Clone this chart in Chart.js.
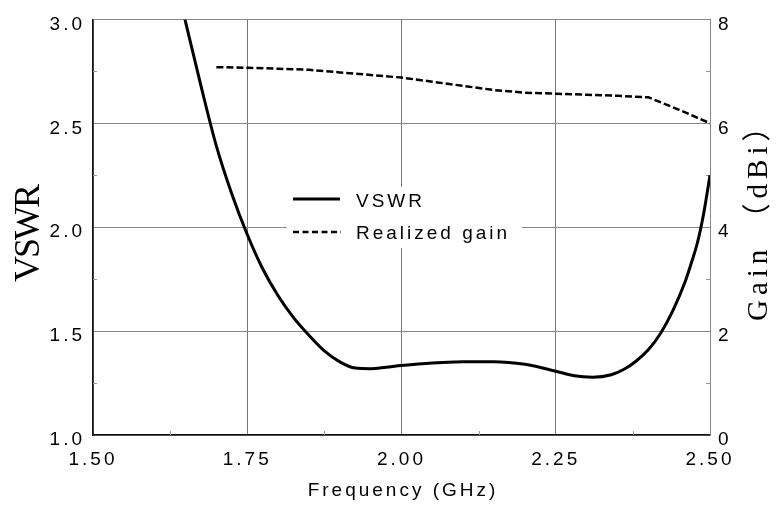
<!DOCTYPE html>
<html>
<head>
<meta charset="utf-8">
<script src="https://cdn.jsdelivr.net/npm/chart.js@4/dist/chart.umd.min.js"></script>
<style>
  html, body { margin: 0; padding: 0; background: #fff; }
  #wrap { width: 777px; height: 508px; }
</style>
</head>
<body>
<div id="wrap"><canvas id="chart" width="777" height="508"></canvas></div>
<script>
// VSWR curve
const freqVswr = [1.649, 1.675, 1.70, 1.725, 1.75, 1.775, 1.80, 1.825, 1.85, 1.875, 1.90, 1.925,
  1.95, 1.975, 2.00, 2.05, 2.10, 2.15, 2.20, 2.25, 2.28, 2.31, 2.34, 2.36, 2.38, 2.40, 2.42,
  2.44, 2.46, 2.47, 2.48, 2.49, 2.50];
const vswr = [3.00, 2.68, 2.39, 2.16, 1.965, 1.80, 1.67, 1.565, 1.48, 1.405, 1.352, 1.322,
  1.319, 1.326, 1.334, 1.346, 1.352, 1.353, 1.34, 1.307, 1.285, 1.278, 1.29, 1.315, 1.355, 1.41, 1.49,
  1.60, 1.74, 1.83, 1.93, 2.07, 2.25];

// realized gain (dBi)
const freqGain = [1.70, 1.75, 1.80, 1.85, 1.90, 1.95, 2.00, 2.05, 2.10, 2.15, 2.20, 2.25, 2.30, 2.35, 2.40, 2.45, 2.50];
const gain = [7.08, 7.07, 7.05, 7.03, 6.98, 6.93, 6.88, 6.80, 6.72, 6.64, 6.59, 6.57, 6.55, 6.53, 6.50, 6.26, 6.00];

// ticks
const xTicks = [1.50, 1.75, 2.00, 2.25, 2.50];
const vswrTicks = [1.0, 1.5, 2.0, 2.5, 3.0];
const gainTicks = [0, 2, 4, 6, 8];
const xMinor = [1.625, 1.875, 2.125, 2.375];
const vswrMinor = [1.25, 1.75, 2.25, 2.75];
const gainMinor = [1, 3, 5, 7];

const sans = '"Liberation Sans", Arial, sans-serif';
const serif = '"Liberation Serif", "Times New Roman", serif';
const GAIN_DASH = [7, 3];

// letter spacing for the canvas text (ticks are widely spaced in the original)
const spacing = {
  id: 'spacing',
  beforeUpdate(chart) { chart.ctx.letterSpacing = '3px'; },
  beforeDraw(chart) { chart.ctx.letterSpacing = '3px'; }
};

// small inner tick marks between the labelled ones
const minorTicks = {
  id: 'minorTicks',
  beforeDatasetsDraw(chart) {
    const { ctx, chartArea: a, scales } = chart;
    ctx.save();
    ctx.strokeStyle = '#999';
    ctx.lineWidth = 1;
    ctx.beginPath();
    xMinor.forEach(v => {
      const x = Math.round(scales.x.getPixelForValue(v)) + 0.5;
      ctx.moveTo(x, a.bottom); ctx.lineTo(x, a.bottom - 4);
    });
    vswrMinor.forEach(v => {
      const y = Math.round(scales.y.getPixelForValue(v)) + 0.5;
      ctx.moveTo(a.left, y); ctx.lineTo(a.left + 4, y);
    });
    gainMinor.forEach(v => {
      const y = Math.round(scales.y2.getPixelForValue(v)) + 0.5;
      ctx.moveTo(a.right, y); ctx.lineTo(a.right - 4, y);
    });
    ctx.stroke();
    ctx.restore();
  }
};

// legend sitting inside the plot, on a white box
const innerLegend = {
  id: 'innerLegend',
  afterDatasetsDraw(chart) {
    const { ctx } = chart;
    ctx.save();
    ctx.fillStyle = '#fff';
    ctx.fillRect(287, 187, 235, 61);
    ctx.strokeStyle = '#000';
    ctx.lineWidth = 3;
    ctx.beginPath(); ctx.moveTo(293, 199); ctx.lineTo(340, 199); ctx.stroke();
    ctx.lineWidth = 2.5;
    ctx.setLineDash([6, 3.5]);
    ctx.beginPath(); ctx.moveTo(293, 232); ctx.lineTo(341, 232); ctx.stroke();
    ctx.setLineDash([]);
    ctx.fillStyle = '#000';
    ctx.font = '19px ' + sans;
    ctx.letterSpacing = '3px';
    ctx.textAlign = 'left';
    ctx.textBaseline = 'middle';
    ctx.fillText('VSWR', 356, 202);
    ctx.fillText('Realized gain', 356, 234);
    ctx.restore();
  }
};

// axis titles
const axisTitles = {
  id: 'axisTitles',
  afterDraw(chart) {
    const { ctx, chartArea: a } = chart;
    ctx.save();
    ctx.fillStyle = '#000';
    ctx.textAlign = 'center';
    ctx.textBaseline = 'middle';

    ctx.font = '19px ' + sans;
    ctx.letterSpacing = '3px';
    ctx.fillText('Frequency (GHz)', (a.left + a.right) / 2 + 1.5, 491);

    ctx.save();
    ctx.translate(30, 234);
    ctx.rotate(-Math.PI / 2);
    ctx.font = '36px ' + serif;
    ctx.letterSpacing = '-2px';
    ctx.fillText('VSWR', 0, 0);
    ctx.restore();

    ctx.save();
    ctx.translate(759, 321);
    ctx.rotate(-Math.PI / 2);
    ctx.textAlign = 'left';
    ctx.font = '29px ' + serif + ', "Noto Sans CJK SC"';
    ctx.letterSpacing = '5px';
    ctx.fillText('Gain （dBi）', 0, 0);
    ctx.restore();

    ctx.restore();
  }
};

Chart.defaults.font.family = sans;
Chart.defaults.font.size = 19;
Chart.defaults.color = '#000';

new Chart(document.getElementById('chart'), {
  type: 'line',
  data: {
    datasets: [
      {
        label: 'VSWR',
        data: freqVswr.map((f, i) => ({ x: f, y: vswr[i] })),
        yAxisID: 'y',
        borderColor: '#000',
        borderWidth: 3,
        pointRadius: 0,
        cubicInterpolationMode: 'monotone'
      },
      {
        label: 'Realized gain',
        data: freqGain.map((f, i) => ({ x: f, y: gain[i] })),
        yAxisID: 'y2',
        borderColor: '#000',
        borderWidth: 2.5,
        borderDash: GAIN_DASH,
        pointRadius: 0,
        tension: 0
      }
    ]
  },
  options: {
    responsive: false,
    devicePixelRatio: 1,
    animation: false,
    events: [],
    layout: { padding: { top: 15, left: 0, right: 0, bottom: 0 } },
    plugins: { legend: { display: false }, tooltip: { enabled: false } },
    scales: {
      x: {
        type: 'linear',
        min: 1.5,
        max: 2.5,
        afterBuildTicks: s => { s.ticks = xTicks.map(v => ({ value: v })); },
        afterFit: s => { s.height = 73; },
        grid: { color: '#777', lineWidth: 1, drawTicks: false },
        border: { color: '#111', width: 1.5 },
        ticks: { padding: 13, maxRotation: 0, autoSkip: false, callback: v => v.toFixed(2) }
      },
      y: {
        position: 'left',
        min: 1,
        max: 3,
        afterBuildTicks: s => { s.ticks = vswrTicks.map(v => ({ value: v })); },
        afterFit: s => { s.width = 93; },
        grid: { color: '#888', lineWidth: 1, drawTicks: false },
        border: { color: '#111', width: 1.5 },
        ticks: { padding: 8, labelOffset: 5, callback: v => v.toFixed(1) }
      },
      y2: {
        position: 'right',
        min: 0,
        max: 8,
        afterBuildTicks: s => { s.ticks = gainTicks.map(v => ({ value: v })); },
        afterFit: s => { s.width = 67; },
        grid: { drawOnChartArea: false, drawTicks: false },
        border: { color: '#888', width: 1 },
        ticks: { padding: 8, labelOffset: 5, callback: v => String(v) }
      }
    }
  },
  plugins: [spacing, minorTicks, innerLegend, axisTitles]
});
</script>
</body>
</html>
